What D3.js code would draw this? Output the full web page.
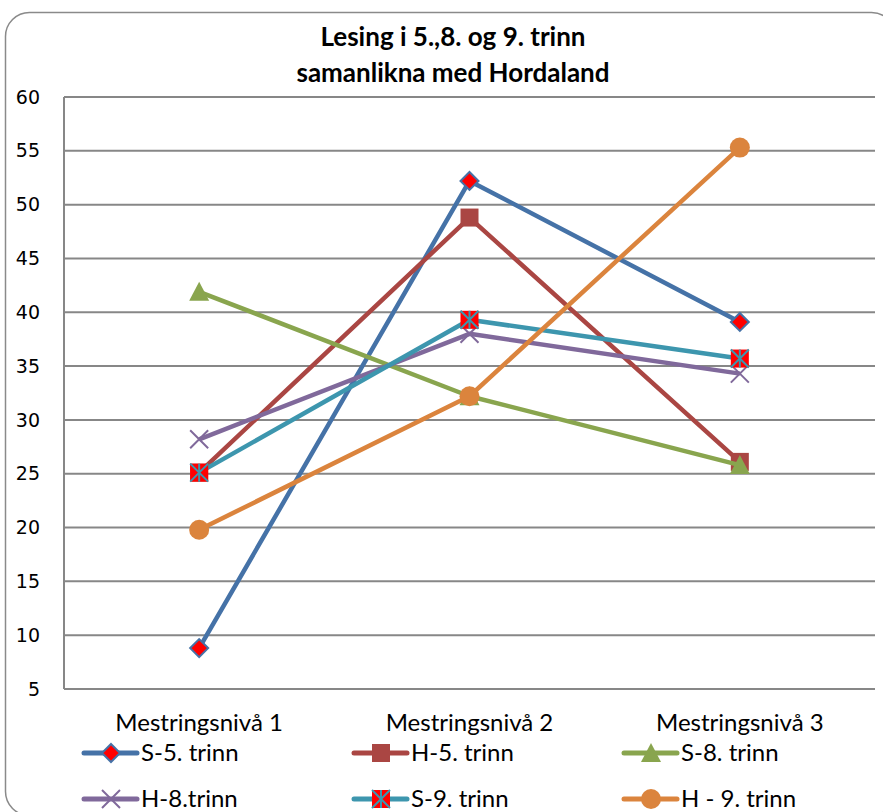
<!DOCTYPE html>
<html><head><meta charset="utf-8">
<script src="https://cdn.jsdelivr.net/npm/d3@7"></script>
<style>body{margin:0;background:#fff}svg{display:block}</style>
</head><body><svg id="c" width="883" height="812"></svg>
<script>
const categories = ["Mestringsnivå 1", "Mestringsnivå 2", "Mestringsnivå 3"];
const seriesNames = ["S-5. trinn", "H-5. trinn", "S-8. trinn", "H-8.trinn", "S-9. trinn", "H - 9. trinn"];
const s5 = [8.8, 52.2, 39.1];
const h5 = [25.1, 48.8, 26.1];
const s8 = [41.9, 32.2, 25.8];
const h8 = [28.2, 38.0, 34.3];
const s9 = [25.1, 39.3, 35.7];
const h9 = [19.8, 32.2, 55.3];
const yTicks = [5, 10, 15, 20, 25, 30, 35, 40, 45, 50, 55, 60];
const titleLines = ["Lesing i 5.,8. og 9. trinn", "samanlikna med Hordaland"];

const colors = ["#4572A7", "#AA4643", "#89A54E", "#80699B", "#3D96AE", "#DB843D"];
const markers = ["diamond", "square", "triangle", "x", "sqx", "circle"];
const values = [s5, h5, s8, h8, s9, h9];

const svg = d3.select("#c");
const font = "Lato, 'Liberation Sans', sans-serif";

svg.append("rect").attr("x", 5.5).attr("y", 12.5).attr("width", 890).attr("height", 803)
  .attr("rx", 24).attr("fill", "#fff").attr("stroke", "#8a8a8a").attr("stroke-width", 1.5);

const L = 64, R = 875, T = 97, B = 689;
const x = d3.scalePoint().domain(categories).range([L, R]).padding(0.5);
const y = d3.scaleLinear().domain([5, 60]).range([B, T]);

// gridlines
svg.append("g").selectAll("line").data(yTicks).join("line")
  .attr("x1", L).attr("x2", R).attr("y1", d => y(d)).attr("y2", d => y(d))
  .attr("stroke", "#878787").attr("stroke-width", 2);
svg.append("line").attr("x1", L).attr("x2", L).attr("y1", T).attr("y2", B)
  .attr("stroke", "#878787").attr("stroke-width", 2);

// y labels
svg.append("g").selectAll("text").data(yTicks).join("text")
  .attr("x", 40).attr("y", d => y(d)).attr("dy", "0.35em").attr("text-anchor", "end")
  .attr("font-family", "'DejaVu Sans', Verdana, sans-serif").attr("font-size", 19).attr("fill", "#000")
  .text(d => d);

// category labels
svg.append("g").selectAll("text").data(categories).join("text")
  .attr("x", d => x(d)).attr("y", 731).attr("text-anchor", "middle")
  .attr("font-family", font).attr("font-size", 24).attr("fill", "#000").text(d => d);

// title
svg.append("g").selectAll("text").data(titleLines).join("text")
  .attr("x", 453).attr("y", (d, i) => 46 + i * 36).attr("text-anchor", "middle")
  .attr("font-family", font).attr("font-weight", "bold").attr("font-size", 26).attr("fill", "#000").text(d => d);

function drawMarker(g, type, color, cx, cy) {
  if (type === "diamond") {
    g.append("path").attr("d", `M${cx},${cy-9}L${cx+9},${cy}L${cx},${cy+9}L${cx-9},${cy}Z`)
      .attr("fill", "#FF0000").attr("stroke", color).attr("stroke-width", 2);
  } else if (type === "square") {
    g.append("rect").attr("x", cx-9).attr("y", cy-9).attr("width", 18).attr("height", 18).attr("fill", color);
  } else if (type === "triangle") {
    g.append("path").attr("d", `M${cx},${cy-10}L${cx+10},${cy+9}L${cx-10},${cy+9}Z`).attr("fill", color);
  } else if (type === "x") {
    g.append("path").attr("d", `M${cx-9},${cy-9}L${cx+9},${cy+9}M${cx+9},${cy-9}L${cx-9},${cy+9}`)
      .attr("stroke", color).attr("stroke-width", 2).attr("fill", "none");
  } else if (type === "sqx") {
    g.append("rect").attr("x", cx-9).attr("y", cy-9).attr("width", 18).attr("height", 18).attr("fill", "#FF0000");
    g.append("path").attr("d", `M${cx-9},${cy-9}L${cx+9},${cy+9}M${cx+9},${cy-9}L${cx-9},${cy+9}M${cx},${cy-9}L${cx},${cy+9}`)
      .attr("stroke", color).attr("stroke-width", 2).attr("fill", "none");
  } else if (type === "circle") {
    g.append("circle").attr("cx", cx).attr("cy", cy).attr("r", 10).attr("fill", color);
  }
}

const line = d3.line().x((d, i) => x(categories[i])).y(d => y(d));
values.forEach((vals, si) => {
  const g = svg.append("g");
  g.append("path").attr("d", line(vals)).attr("fill", "none").attr("stroke", colors[si])
    .attr("stroke-width", 4.5).attr("stroke-linejoin", "round");
  vals.forEach((v, i) => drawMarker(g, markers[si], colors[si], x(categories[i]), y(v)));
});

// legend
const legX = [84, 354, 624], legY = [753, 799];
seriesNames.forEach((name, si) => {
  const lx = legX[si % 3], ly = legY[Math.floor(si / 3)];
  const g = svg.append("g");
  g.append("line").attr("x1", lx).attr("x2", lx + 53).attr("y1", ly).attr("y2", ly)
    .attr("stroke", colors[si]).attr("stroke-width", 5).attr("stroke-linecap", "round");
  drawMarker(g, markers[si], colors[si], lx + 27, ly);
  g.append("text").attr("x", lx + 57).attr("y", ly).attr("dy", "0.35em")
    .attr("font-family", font).attr("font-size", 24).attr("fill", "#000").text(name);
});
</script></body></html>
